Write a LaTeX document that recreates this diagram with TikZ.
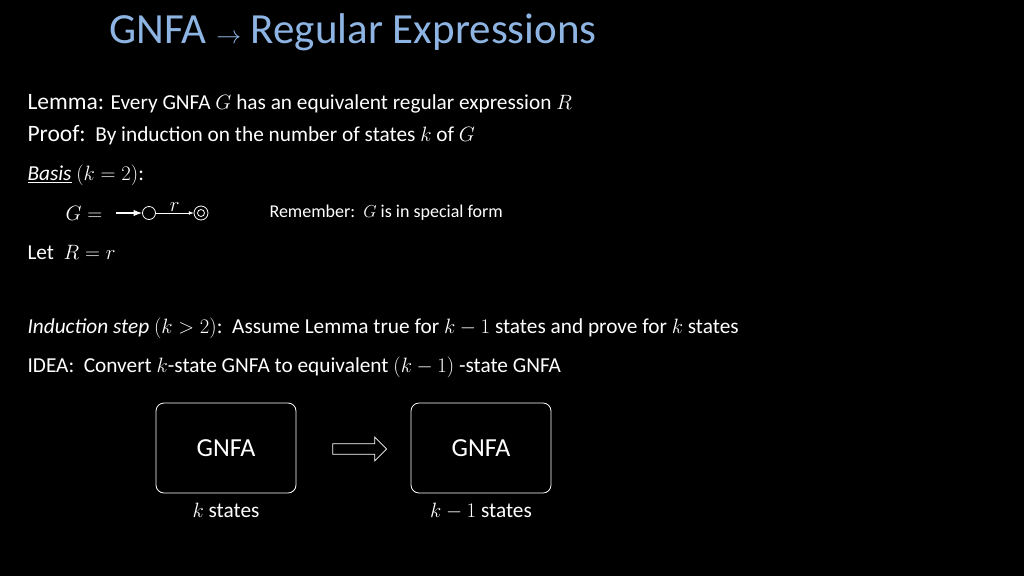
\documentclass[tikz,border=0pt]{standalone}
\usepackage{fontspec}
\setmainfont{Carlito}
\usetikzlibrary{arrows.meta, positioning, shapes.arrows}
\definecolor{titleblue}{RGB}{141,180,226}

\begin{document}
\begin{tikzpicture}[x=1pt, y=-1pt, white, every node/.style={text=white, font=\fontsize{21.3}{24}\selectfont},
		state/.style={draw, circle, inner sep=0pt, minimum size=13pt, thick},
		gnfabox/.style={draw, thick, rounded corners=8pt, minimum width=140pt, minimum height=90pt, font=\fontsize{26}{28}\selectfont}]
				\fill[black] (0,0) rectangle (1024,576);
				\useasboundingbox (0,0) rectangle (1024,576);

				\node[anchor=west, text=titleblue, font=\fontsize{43}{47}\selectfont] (title) at (106,32) {GNFA $\rightarrow$ Regular Expressions};

				\node[anchor=west] (lemma) at (24,104) {{\fontsize{23.5}{26}\selectfont Lemma:} Every GNFA $G$ has an equivalent regular expression $R$};
				\node[anchor=west] (proof) at (24,135) {{\fontsize{23.5}{26}\selectfont Proof:}\ \ By induction on the number of states $k$ of $G$};
				\node[anchor=west] (basis) at (24,175) {\underline{\textit{Basis}} $(k=2)$:};
				\node[anchor=west] (geq) at (62,213) {$G=$};
				\coordinate (start) at (116,213);
				\node[state] (q1) at (149,213) {};
				\node[state, minimum size=14pt] (q2) at (201,213) {};
				\node[state, minimum size=7pt] (q2in) at (q2) {};
				\draw[-{Latex}, very thick] (start) -- (q1);
				\draw[-{Latex}] (q1) -- node[above, inner sep=1pt] {$r$} (q2);
				\node[anchor=west, font=\fontsize{18}{20}\selectfont] (remember) at (266,213) {Remember:\ \ $G$ is in special form};
				\node[anchor=west] (let) at (24,252) {Let\ \ $R=r$};

				\node[anchor=west] (induct) at (24,328) {\textit{Induction step} $(k>2)$:\ \ Assume Lemma true for $k-1$ states and prove for $k$ states};
				\node[anchor=west] (idea) at (24,367) {IDEA:\ \ Convert $k$-state GNFA to equivalent $(k-1)$ -state GNFA};

				\node[gnfabox] (left) at (226,448) {GNFA};
				\node[gnfabox] (right) at (481,448) {GNFA};
				\node[single arrow, draw, thick, fill=black, minimum height=54pt, minimum width=24pt, single arrow head extend=3pt, inner sep=2pt] (arr) at (357,449) {};
				\node[below=6pt of left] (lk) {$k$ states};
				\node[below=6pt of right] (rk) {$k-1$ states};
			\end{tikzpicture}
\end{document}
